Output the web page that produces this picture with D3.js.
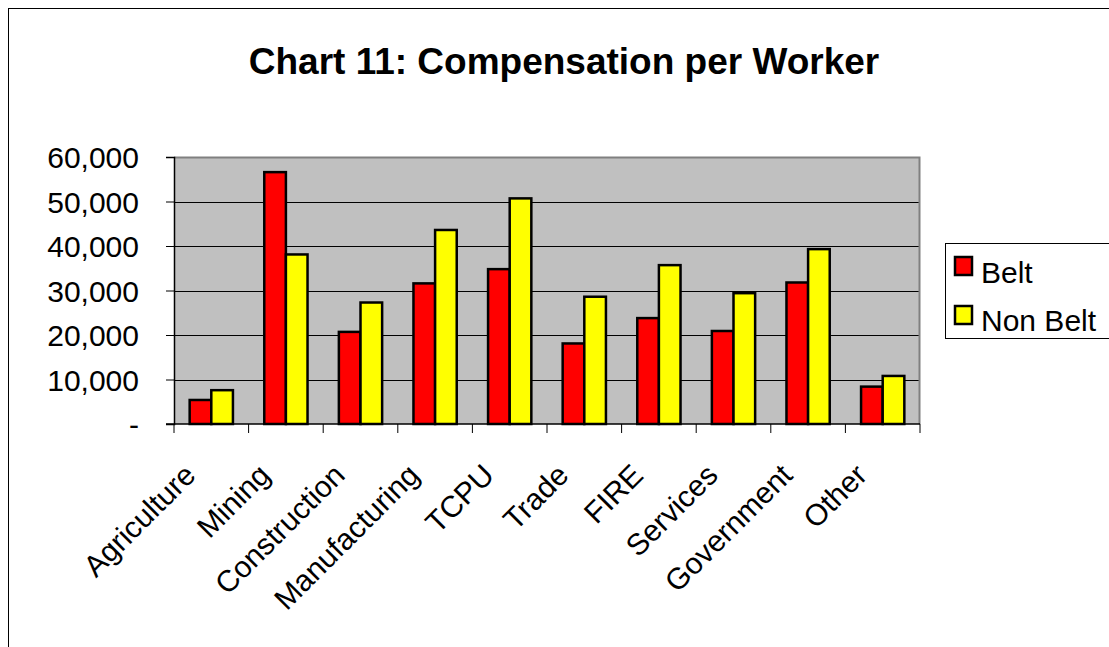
<!DOCTYPE html>
<html>
<head>
<meta charset="utf-8">
<script src="https://cdn.jsdelivr.net/npm/d3@7"></script>
<style>
  body { margin: 0; background: #fff; }
  svg text { font-family: "Liberation Sans", Arial, sans-serif; fill: #000; }
</style>
</head>
<body>
<div id="chart"></div>
<script>
// chart values
var categories = ["Agriculture", "Mining", "Construction", "Manufacturing", "TCPU",
                  "Trade", "FIRE", "Services", "Government", "Other"];
var seriesNames = ["Belt", "Non Belt"];
var belt    = [5400, 56600, 20700, 31600, 34800, 18100, 23800, 20900, 31800, 8400];
var nonBelt = [7600, 38100, 27300, 43600, 50700, 28600, 35700, 29400, 39300, 10800];
var yTicks  = [0, 10000, 20000, 30000, 40000, 50000, 60000];
var colors  = ["#ff0000", "#ffff00"];

var W = 1109, H = 647;
var plot = {left: 174, top: 157, right: 920, bottom: 424};

var svg = d3.select("#chart").append("svg")
    .attr("width", W)
    .attr("height", H);

// outer chart frame
svg.append("rect")
    .attr("x", 8.5).attr("y", 8.5)
    .attr("width", W + 20).attr("height", H + 20)
    .attr("fill", "#fff")
    .attr("stroke", "#000");

svg.append("text")
    .attr("x", 564).attr("y", 74)
    .attr("text-anchor", "middle")
    .style("font-size", "37px")
    .style("font-weight", "bold")
    .text("Chart 11: Compensation per Worker");

var x0 = d3.scaleBand()
    .domain(categories)
    .range([plot.left, plot.right]);

var x1 = d3.scaleBand()
    .domain(seriesNames)
    .range([0, x0.bandwidth() * 0.58]);

var y = d3.scaleLinear()
    .domain([0, 60000])
    .range([plot.bottom, plot.top]);

// plot background
svg.append("rect")
    .attr("x", plot.left).attr("y", plot.top)
    .attr("width", plot.right - plot.left)
    .attr("height", plot.bottom - plot.top)
    .attr("fill", "#c0c0c0");

// gridlines
svg.append("g")
  .selectAll("line")
  .data(yTicks.slice(1, -1))
  .join("line")
    .attr("x1", plot.left).attr("x2", plot.right)
    .attr("y1", d => Math.round(y(d)) + 0.5)
    .attr("y2", d => Math.round(y(d)) + 0.5)
    .attr("stroke", "#000");

// top / right plot border in gray
svg.append("path")
    .attr("d", "M" + plot.left + "," + (plot.top + 0.5) + "H" + (plot.right - 0.5) + "V" + plot.bottom)
    .attr("fill", "none")
    .attr("stroke", "#808080")
    .attr("stroke-width", 2);

// bars
var rows = categories.map(function(c, i) {
  return {cat: c, values: [belt[i], nonBelt[i]]};
});
var groupOffset = (x0.bandwidth() - x1.range()[1]) / 2;

var groups = svg.append("g")
  .selectAll("g")
  .data(rows)
  .join("g")
    .attr("transform", d => "translate(" + (x0(d.cat) + groupOffset) + ",0)");

groups.selectAll("rect")
  .data(d => d.values.map((v, j) => ({name: seriesNames[j], value: v, j: j})))
  .join("rect")
    .attr("x", d => x1(d.name))
    .attr("y", d => y(d.value))
    .attr("width", x1.bandwidth())
    .attr("height", d => y(0) - y(d.value))
    .attr("fill", d => colors[d.j])
    .attr("stroke", "#000")
    .attr("stroke-width", 2.5);

// y axis
var yAxis = svg.append("g")
    .attr("transform", "translate(" + plot.left + ",0)")
    .call(d3.axisLeft(y)
      .tickValues(yTicks)
      .tickSize(8)
      .tickPadding(27)
      .tickFormat(d => d === 0 ? "-" : d3.format(",")(d)));
yAxis.select(".domain").attr("stroke", "#000").attr("stroke-width", 1.5);
yAxis.selectAll("text").style("font-size", "30px").attr("dy", "0.35em")
    .attr("font-family", null);

// x axis: ticks between categories
var xAxis = svg.append("g")
    .attr("transform", "translate(0," + plot.bottom + ")");
xAxis.append("line")
    .attr("x1", plot.left - 8).attr("x2", plot.right)
    .attr("stroke", "#000").attr("stroke-width", 1.5);
xAxis.selectAll("line.tick")
  .data(categories.map(c => x0(c)).concat([plot.right]))
  .join("line")
    .attr("class", "tick")
    .attr("x1", d => d).attr("x2", d => d)
    .attr("y1", 0).attr("y2", 9)
    .attr("stroke", "#000");

xAxis.selectAll("text")
  .data(categories)
  .join("text")
    .attr("text-anchor", "end")
    .attr("transform", d => "translate(" + (x0(d) + x0.bandwidth() / 2 - 14) + ",53) rotate(-45)")
    .style("font-size", "30px")
    .text(d => d);

// legend
var legend = svg.append("g").attr("transform", "translate(945,243)");
legend.append("rect")
    .attr("x", 0.5).attr("y", 0.5)
    .attr("width", 200).attr("height", 95)
    .attr("fill", "#fff")
    .attr("stroke", "#000");
seriesNames.forEach(function(name, i) {
  legend.append("rect")
      .attr("x", 10).attr("y", 14 + i * 49)
      .attr("width", 17).attr("height", 18)
      .attr("fill", colors[i])
      .attr("stroke", "#000")
      .attr("stroke-width", 2.5);
  legend.append("text")
      .attr("x", 36).attr("y", 40 + i * 48)
      .style("font-size", "30px")
      .text(name);
});
</script>
</body>
</html>
